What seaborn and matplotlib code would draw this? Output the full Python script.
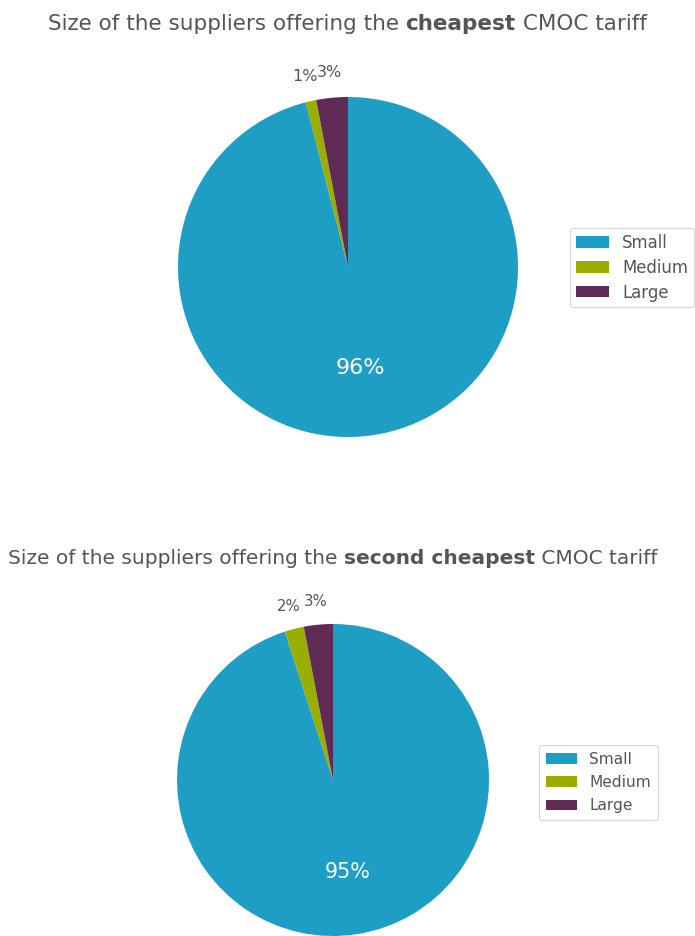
import matplotlib
matplotlib.use("Agg")
import matplotlib.pyplot as plt
import numpy as np
import seaborn as sns

sns.set_theme(style="white")
plt.rcParams["font.family"] = ["DejaVu Sans"]

categories = ["Small", "Medium", "Large"]
cheapest_share = [96, 1, 3]
second_cheapest_share = [95, 2, 3]
colors = ["#1e9ec5", "#9aae00", "#5f2a53"]

W, H = 695, 936
fig = plt.figure(figsize=(W / 100, H / 100), dpi=100)
TEXT_GREY = "#555555"


def draw_title(y_px, cx_px, parts, size):
    """Draw a title made of (text, weight) pieces, centred on cx_px."""
    renderer = fig.canvas.get_renderer()
    texts = [fig.text(0, 1 - y_px / H, s, fontsize=size, fontweight=w,
                      color=TEXT_GREY, va="center", ha="left")
             for s, w in parts]
    widths = [t.get_window_extent(renderer).width for t in texts]
    x = cx_px - sum(widths) / 2
    for t, wd in zip(texts, widths):
        t.set_x(x / W)
        x += wd


def draw_pie(cx, cy, r, values, legend_box, scale, legend_size, legend_spacing,
             legend_pad):
    ax = fig.add_axes([(cx - r) / W, 1 - (cy + r) / H, 2 * r / W, 2 * r / H])
    wedges, _ = ax.pie(values, colors=colors, startangle=90, counterclock=False,
                       radius=1.0, wedgeprops=dict(linewidth=0))
    ax.set_xlim(-1, 1)
    ax.set_ylim(-1, 1)
    ax.set_aspect("equal")
    ax.axis("off")
    total = sum(values)
    for w, v in zip(wedges, values):
        ang = np.deg2rad((w.theta1 + w.theta2) / 2)
        pct = f"{v / total * 100:.0f}%"
        if v / total >= 0.05:
            ax.text(0.6 * np.cos(ang), 0.6 * np.sin(ang), pct, color="white",
                    fontsize=16 * scale, ha="center", va="center")
        else:
            ax.text(1.15 * np.cos(ang), 1.15 * np.sin(ang), pct, color=TEXT_GREY,
                    fontsize=11.5 * scale, ha="center", va="center", clip_on=False)
    lx, ly = legend_box
    leg = fig.legend(wedges, categories, loc="upper left",
                     bbox_to_anchor=(lx / W, 1 - ly / H), borderaxespad=0,
                     fontsize=legend_size, frameon=True, fancybox=True,
                     handlelength=2.0, handleheight=0.67, handletextpad=0.8,
                     labelcolor=TEXT_GREY, borderpad=legend_pad,
                     labelspacing=legend_spacing)
    leg.get_frame().set_edgecolor("#cccccc")
    leg.get_frame().set_linewidth(0.8)


draw_title(24, 347, [("Size of the suppliers offering the ", "normal"),
                     ("cheapest", "bold"), (" CMOC tariff", "normal")], 15.5)
draw_pie(348, 267, 170, cheapest_share, (570, 228), 1.0, 11.9, 0.42, 0.35)

draw_title(558, 333, [("Size of the suppliers offering the ", "normal"),
                      ("second cheapest", "bold"), (" CMOC tariff", "normal")], 14.5)
draw_pie(333, 780, 156, second_cheapest_share, (539, 745), 0.93, 11.1, 0.53, 0.45)

fig.savefig("out.png", dpi=100)
